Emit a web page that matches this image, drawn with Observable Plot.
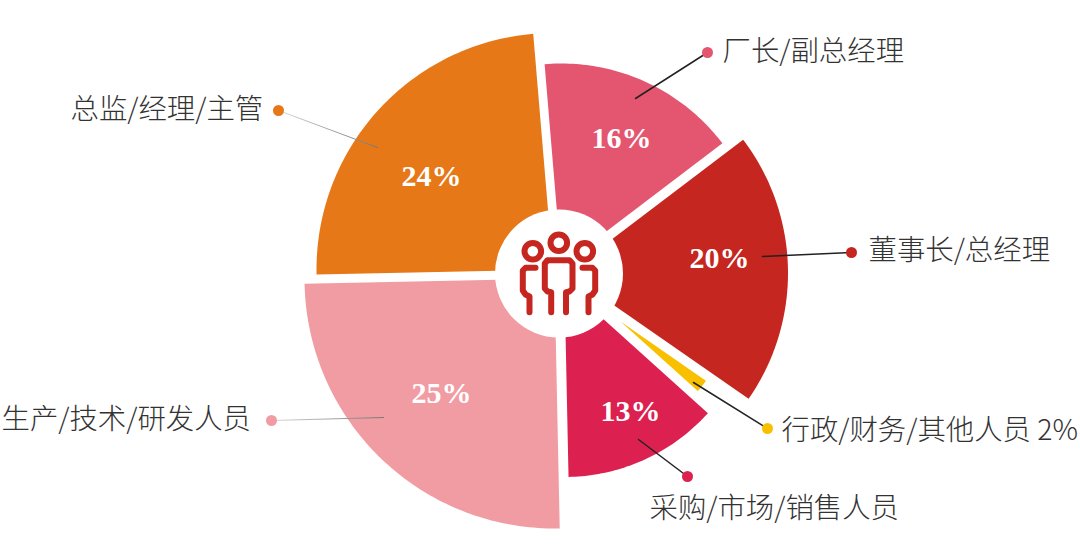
<!DOCTYPE html>
<html lang="zh">
<head>
<meta charset="utf-8">
<style>
html,body{margin:0;padding:0;background:#fff}
svg{display:block}
</style>
<script src="https://cdn.jsdelivr.net/npm/d3@7"></script>
<script src="https://cdn.jsdelivr.net/npm/@observablehq/plot@0.6"></script>
</head>
<body>
<div id="chart"></div>
<script>
// Values
const categories = ["总监/经理/主管","厂长/副总经理","董事长/总经理","行政/财务/其他人员 2%","采购/市场/销售人员","生产/技术/研发人员"];
const shares = [24,16,20,2,13,25];
const valueLabels = ["24%","16%","20%","","13%","25%"];
const colors = ["#e67817","#e4566f","#c5261f","#f9c000","#dc2150","#f19ca3"];

// Layout: exploded wedge geometry and label anchors, in page pixels
const startAngle = -91.2;
const apexX = [552.5,561,567,620,564,554];
const apexY = [269,265,272.5,321,283.5,278];
const radii = [236.5,202,220.5,104,193,250];
const pctX = [431,621,719,0,630,441];
const pctY = [176,138,258,0,411,393];
const labelX = [70,722,868,781,649,1];
const labelY = [109,51,250,430,508,419];
const dotX = [278,707,851,767,687,271];
const dotY = [110,52,252,428,476,420];
const leadX = [377,635,762,693,638,383];
const leadY = [147,98,256,382,439,417];
const faded = [true,false,false,false,false,true];
const hub = {x:558.5,y:273,r:64};

// Wedge outlines derived from the shares
let cum = startAngle;
const wedgePts = [];
shares.forEach((s,i)=>{
  const a0 = cum, a1 = cum + s*3.6; cum = a1;
  const pt = a => ({i, x:apexX[i]+radii[i]*Math.sin(a*Math.PI/180), y:apexY[i]-radii[i]*Math.cos(a*Math.PI/180)});
  wedgePts.push({i,x:apexX[i],y:apexY[i]});
  const n = Math.max(2,Math.ceil(a1-a0));
  for(let k=0;k<=n;k++) wedgePts.push(pt(a0+(a1-a0)*k/n));
  wedgePts.push({i,x:apexX[i],y:apexY[i]});
});

// Icon strokes
const iconHeads = [{x:558.3,y:242.3},{x:532.3,y:250.7},{x:584.3,y:250.7}];
const iconPaths = [
  [[550.7,311.7],[550.7,291.7],[547,291],[544.3,288],[544.3,263],[547,259.8],[569,259.8],[572,263],[572,288],[569,291],[565.5,291.7],[565.5,311.7]],
  [[535,267.3],[525,267.3],[522.3,270],[522.3,290],[525,294],[529,296],[529,311.7]],
  [[582,267.3],[592,267.3],[594.7,270],[594.7,290],[592,294],[588,296],[588,311.7]]
];
const iconPts = iconPaths.flatMap((p,k)=>p.map(([x,y])=>({k,x,y})));

const idx = d3.range(shares.length);
const iconRed = "#c5261f";

const plot = Plot.plot({
  width:1080, height:546,
  marginTop:0, marginRight:0, marginBottom:0, marginLeft:0,
  x:{domain:[0,1080], range:[0,1080], axis:null},
  y:{domain:[0,546], range:[0,546], axis:null},
  style:{background:"#fff"},
  marks:[
    () => {
      const ns="http://www.w3.org/2000/svg";
      const defs=document.createElementNS(ns,"defs");
      defs.innerHTML='<linearGradient id="fade" gradientUnits="objectBoundingBox" x1="0" x2="1" y1="0" y2="0"><stop offset="0" stop-color="#d8d8d8"/><stop offset="1" stop-color="#777"/></linearGradient>';
      return defs;
    },
    Plot.line(wedgePts, {x:"x",y:"y",z:"i",fill:d=>colors[d.i],stroke:"none",curve:"linear"}),
    Plot.dot([hub],{x:"x",y:"y",r:hub.r,fill:"#fff",stroke:"none"}),
    Plot.dot(iconHeads,{x:"x",y:"y",r:8.3,fill:"none",stroke:iconRed,strokeWidth:6}),
    Plot.line(iconPts,{x:"x",y:"y",z:"k",stroke:iconRed,strokeWidth:6,strokeLinecap:"round",strokeLinejoin:"round",curve:"linear"}),
    // leaders
    ...idx.map(i=>Plot.line([[dotX[i],dotY[i]],[leadX[i],leadY[i]]],{
      stroke: faded[i] ? "url(#fade)" : "#222",
      strokeWidth: faded[i] ? 1 : 1.5
    })),
    Plot.dot(idx,{x:i=>dotX[i],y:i=>dotY[i],r:5.5,fill:i=>colors[i],stroke:"none"}),
    Plot.text(idx.filter(i=>valueLabels[i]),{x:i=>pctX[i],y:i=>pctY[i],text:i=>valueLabels[i],
      fill:"#fff",fontFamily:"'Liberation Serif',serif",fontWeight:700,fontSize:30,textAnchor:"middle",lineAnchor:"middle"}),
    Plot.text(idx,{x:i=>labelX[i],y:i=>labelY[i],text:i=>categories[i],
      fill:"#333",fontFamily:"'Noto Sans CJK SC','Noto Sans',sans-serif",fontWeight:300,fontSize:28.4,textAnchor:"start",lineAnchor:"middle"})
  ]
});
document.getElementById("chart").append(plot);
</script>
</body>
</html>
